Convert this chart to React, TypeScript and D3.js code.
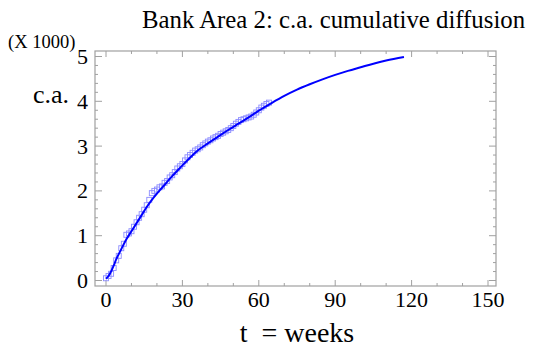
import * as d3 from 'd3';

// fitted curve (t in weeks, value in thousands)
const fitWeeks = [0, 1, 2, 3, 4, 6, 8, 10, 12, 14, 16, 18, 20, 22, 24, 26, 28, 30, 33, 36, 40, 44, 48, 52, 56, 60, 65, 70, 75, 80, 85, 90, 95, 100, 105, 110, 117];
const fitValues = [0.04, 0.1, 0.2, 0.33, 0.47, 0.7, 0.92, 1.1, 1.28, 1.46, 1.64, 1.8, 1.94, 2.07, 2.2, 2.33, 2.45, 2.57, 2.74, 2.9, 3.06, 3.21, 3.36, 3.5, 3.64, 3.79, 3.96, 4.12, 4.26, 4.38, 4.49, 4.59, 4.68, 4.76, 4.84, 4.91, 4.99];

// observed weekly points
const obsWeeks = d3.range(0, 65);
const obsValues = [0.05, 0.1, 0.15, 0.28, 0.45, 0.55, 0.72, 0.82, 1.02, 1.05, 1.1, 1.2, 1.3, 1.4, 1.48, 1.58, 1.68, 1.8, 1.95, 2.0, 2.03, 2.08, 2.1, 2.18, 2.22, 2.3, 2.35, 2.42, 2.5, 2.55, 2.6, 2.68, 2.75, 2.8, 2.85, 2.9, 2.93, 2.97, 3.02, 3.06, 3.1, 3.13, 3.17, 3.2, 3.23, 3.27, 3.3, 3.33, 3.36, 3.4, 3.45, 3.5, 3.54, 3.58, 3.6, 3.62, 3.64, 3.66, 3.7, 3.75, 3.8, 3.86, 3.9, 3.94, 3.97];

const xTicks = [0, 30, 60, 90, 120, 150];
const yTicks = [0, 1, 2, 3, 4, 5];

const W = 538;
const H = 349;
const box = { left: 95, right: 496, top: 51, bottom: 286 };
const font = '"Liberation Serif", "Times New Roman", serif';
const axisColor = '#a0a0a0';

export default function App() {
  const x = d3.scaleLinear().domain([0, 150]).range([106, 488]);
  const y = d3.scaleLinear().domain([0, 5]).range([280.5, 56.5]);

  const line = d3.line<number>()
    .x((_, i) => x(fitWeeks[i]))
    .y(d => y(d))
    .curve(d3.curveMonotoneX);

  const xMinor = d3.range(0, 151, 10);
  const yMinor = d3.range(0, 5.01, 0.2);

  return (
    <svg width={W} height={H} style={{ position: 'absolute', left: 0, top: 0 }}>
      <rect width={W} height={H} fill="#fff" />
      <text x={142} y={28} fontFamily={font} fontSize={24.8} fill="#000">
        Bank Area 2: c.a. cumulative diffusion
      </text>
      <text x={8} y={48} fontFamily={font} fontSize={18.5} fill="#000">(X 1000)</text>
      <text x={33} y={103} fontFamily={font} fontSize={26} fill="#000">c.a.</text>

      <rect x={box.left} y={box.top} width={box.right - box.left} height={box.bottom - box.top}
        fill="none" stroke={axisColor} strokeWidth={1.2} />

      {xMinor.map(t => {
        const len = t % 30 === 0 ? 6 : 3;
        return (
          <g key={'xt' + t} stroke={axisColor} strokeWidth={1}>
            <line x1={x(t)} x2={x(t)} y1={box.bottom} y2={box.bottom - len} />
            <line x1={x(t)} x2={x(t)} y1={box.top} y2={box.top + len} />
          </g>
        );
      })}
      {yMinor.map((v, i) => {
        const len = i % 5 === 0 ? 7 : 3;
        return (
          <g key={'yt' + i} stroke={axisColor} strokeWidth={1}>
            <line x1={box.left} x2={box.left + len} y1={y(v)} y2={y(v)} />
            <line x1={box.right} x2={box.right - len} y1={y(v)} y2={y(v)} />
          </g>
        );
      })}

      {xTicks.map(t => (
        <text key={'xl' + t} x={x(t)} y={307} textAnchor="middle" fontFamily={font} fontSize={22} fill="#000">
          {t}
        </text>
      ))}
      {yTicks.map(v => (
        <text key={'yl' + v} x={88} y={y(v) + 7.5} textAnchor="end" fontFamily={font} fontSize={22} fill="#000">
          {v}
        </text>
      ))}

      {obsValues.map((v, i) => (
        <rect key={'o' + i} x={x(obsWeeks[i]) - 2.5} y={y(v) - 2.5} width={5} height={5}
          fill="none" stroke="#8c8cff" strokeWidth={0.9} />
      ))}
      <path d={line(fitValues) || ''} fill="none" stroke="#0000ff" strokeWidth={2} />

      <text x={297} y={342} textAnchor="middle" fontFamily={font} fontSize={28} fill="#000"
        style={{ whiteSpace: 'pre' }}>
        {'t  = weeks'}
      </text>
    </svg>
  );
}
